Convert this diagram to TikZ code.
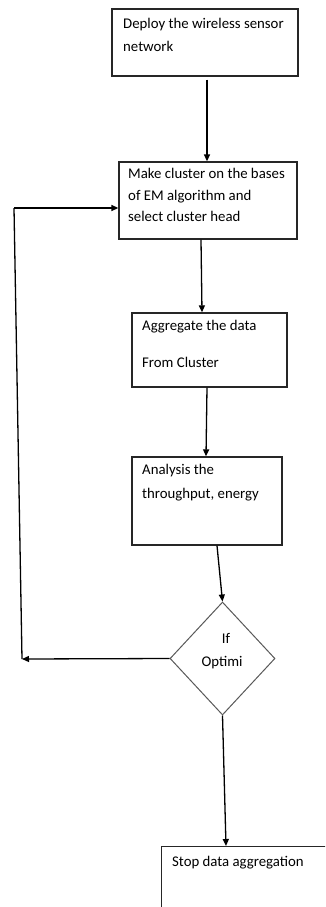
\documentclass[tikz,border=0pt]{standalone}
\usepackage{fontspec}
\setmainfont{Carlito}
\usetikzlibrary{shapes.geometric,arrows.meta}
\begin{document}
\begin{tikzpicture}[x=1pt,y=1pt,
  box/.style={draw=black!85,line width=1.3pt,inner sep=0pt,fill=white},
  txt/.style={anchor=base west,inner sep=0pt,font=\fontsize{14.8}{17}\selectfont},
  arr/.style={line width=1.3pt,-{Triangle[length=7pt,width=6pt]}},
  ln/.style={line width=1.3pt}]
\clip (0,0) rectangle (325,-907);
\fill[white] (0,0) rectangle (325,-907);
% boxes
\node[box,minimum width=186pt,minimum height=67pt] (b1) at (205,-42.5) {};
\node[box,minimum width=178pt,minimum height=77pt] (b2) at (208,-200.5) {};
\node[box,minimum width=155pt,minimum height=74pt] (b3) at (209.5,-350) {};
\node[box,minimum width=150pt,minimum height=88pt] (b4) at (207,-501) {};
\node[draw=black!65,line width=1pt,shape=diamond,inner sep=0pt,minimum width=105pt,minimum height=113pt,fill=white] (d) at (222.5,-658.5) {};
\node[box,minimum width=220pt,minimum height=120pt,anchor=north west] (b5) at (161,-846) {};
% texts
\node[txt] (t1a) at (123,-29) {Deploy the wireless sensor};
\node[txt] (t1b) at (123,-52) {network};
\node[txt] (t2a) at (128,-178) {Make cluster on the bases};
\node[txt] (t2b) at (128,-200) {of EM algorithm and};
\node[txt] (t2c) at (128,-221) {select cluster head};
\node[txt] (t3a) at (142,-330) {Aggregate the data};
\node[txt] (t3b) at (142,-367) {From Cluster};
\node[txt] (t4a) at (142,-474) {Analysis the};
\node[txt] (t4b) at (142,-498) {throughput, energy};
\node[txt,anchor=base] (tda) at (226,-643) {If};
\node[txt,anchor=base] (tdb) at (222,-666) {Optimi};
\node[txt] (t5) at (172,-866) {Stop data aggregation};
% connectors
\coordinate (c1) at (22,-659);
\coordinate (c2) at (14,-208);
\draw[arr,shorten <=3pt] ([xshift=2pt]b1.south) -- ([xshift=-1pt]b2.north);
\draw[arr] ([xshift=-7pt]b2.south) -- ([xshift=-7.5pt]b3.north);
\draw[arr] ([xshift=-2.5pt]b3.south) -- ([xshift=-1pt]b4.north);
\draw[arr] ([xshift=10pt]b4.south) -- (d.north);
\draw[arr] (d.south) -- ([xshift=65pt]b5.north west);
\draw[arr] (d.west) -- (c1);
\draw[ln] (c1) -- (c2);
\draw[arr] (c2) -- (c2 -| b2.west);
\end{tikzpicture}
\end{document}
